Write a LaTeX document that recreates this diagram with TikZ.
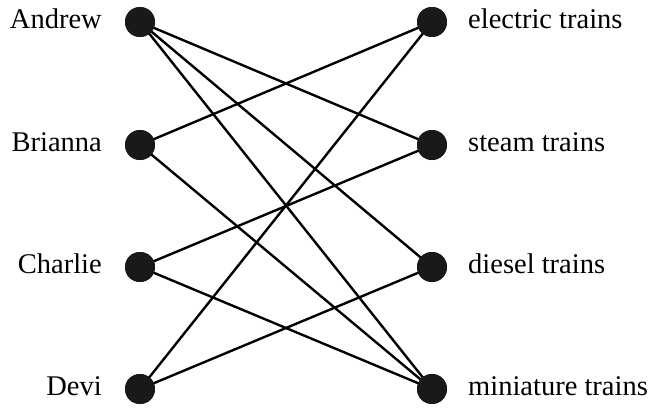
\documentclass[tikz,border=0pt]{standalone}
\usepackage{fontspec}
\setmainfont{Liberation Serif}
\begin{document}
\begin{tikzpicture}[x=1pt,y=1pt,
  dot/.style={circle,fill=black!90,inner sep=0pt,minimum size=30pt},
  edge/.style={line width=2.4pt,black},
  lab/.style={font=\fontsize{28.5}{34}\selectfont,inner sep=0pt}]
\useasboundingbox (0,0) rectangle (656,408);
% left dots
\node[dot] (A) at (140,386) {};
\node[dot] (B) at (140,263) {};
\node[dot] (C) at (140,141) {};
\node[dot] (D) at (140,19) {};
% right dots
\node[dot] (E) at (432,386) {};
\node[dot] (S) at (432,263) {};
\node[dot] (Di) at (432,141) {};
\node[dot] (M) at (432,19) {};
% labels
\node[lab,anchor=base east] (lA) at ([xshift=-38pt,yshift=-6.5pt]A.center) {Andrew};
\node[lab,anchor=base east] (lB) at ([xshift=-38pt,yshift=-6.5pt]B.center) {Brianna};
\node[lab,anchor=base east] (lC) at ([xshift=-38pt,yshift=-6.5pt]C.center) {Charlie};
\node[lab,anchor=base east] (lD) at ([xshift=-38pt,yshift=-6.5pt]D.center) {Devi};
\node[lab,anchor=base west] (lE) at ([xshift=36pt,yshift=-6.5pt]E.center) {electric trains};
\node[lab,anchor=base west] (lS) at ([xshift=36pt,yshift=-6.5pt]S.center) {steam trains};
\node[lab,anchor=base west] (lDi) at ([xshift=36pt,yshift=-6.5pt]Di.center) {diesel trains};
\node[lab,anchor=base west] (lM) at ([xshift=36pt,yshift=-6.5pt]M.center) {miniature trains};
% edges
\draw[edge] (A.center) -- (S.center);
\draw[edge] (A.center) -- (Di.center);
\draw[edge] (A.center) -- (M.center);
\draw[edge] (B.center) -- (E.center);
\draw[edge] (B.center) -- (M.center);
\draw[edge] (C.center) -- (S.center);
\draw[edge] (C.center) -- (M.center);
\draw[edge] (D.center) -- (E.center);
\draw[edge] (D.center) -- (Di.center);
% redraw dots on top
\foreach \n in {A,B,C,D,E,S,Di,M} {\fill[black!90] (\n.center) circle (15pt);}
\end{tikzpicture}
\end{document}
